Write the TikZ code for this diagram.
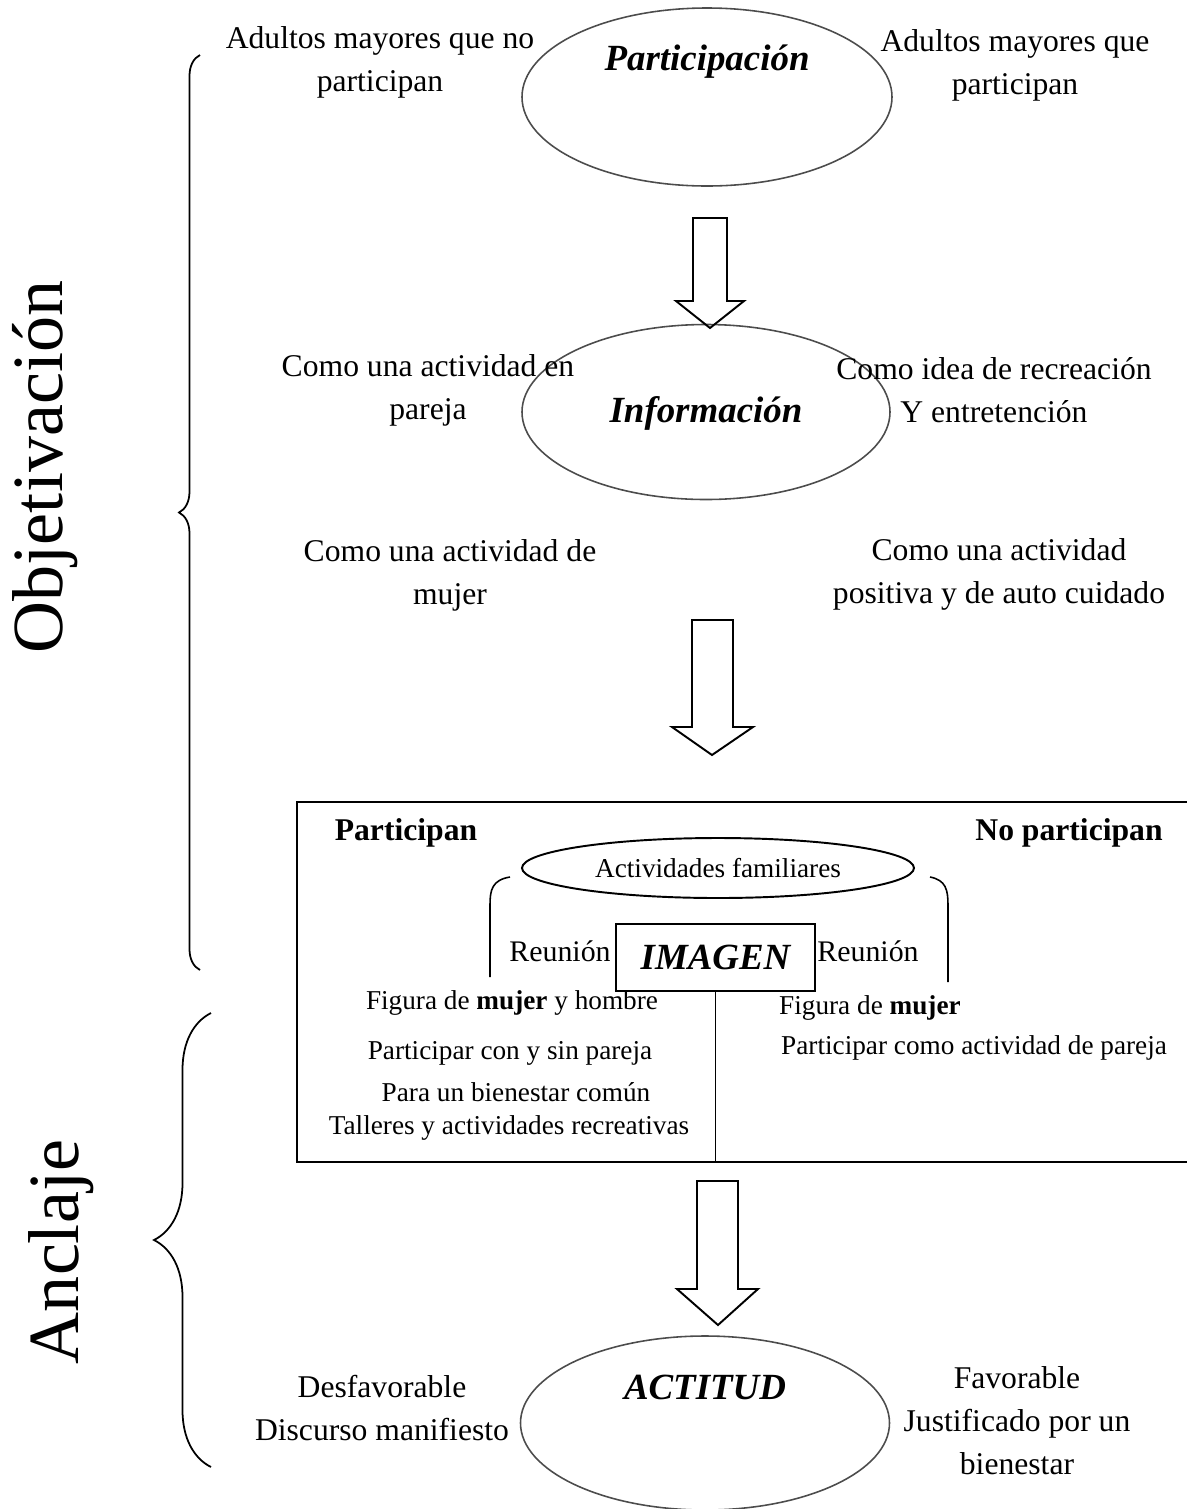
\documentclass[tikz,border=0pt]{standalone}
\usepackage{fontspec}
\setmainfont{Liberation Serif}
\usepackage{tikz}
\usetikzlibrary{shapes.geometric, decorations.pathreplacing}

\begin{document}
\begin{tikzpicture}[
  texto/.style = {font=\fontsize{18}{24.5}\selectfont, align=center},
  titulo/.style = {font=\fontsize{21}{25}\selectfont\bfseries\itshape},
  caja/.style = {font=\fontsize{15.5}{19}\selectfont},
  lado/.style = {font=\fontsize{41}{48}\selectfont, rotate=90, anchor=base},
  elipse/.style = {draw=black!70, line width=0.9pt, ellipse, inner sep=0pt},
  flecha/.style = {draw, line width=1.1pt, line join=miter}
]
\useasboundingbox (0,0) rectangle (23.74,-30.18);

% elipses
\node[elipse, minimum width=7.4cm, minimum height=3.56cm] (part) at (14.14,-1.94) {};
\node[titulo] (parttit) at (14.14,-1.24) {Participación};
\node[elipse, minimum width=7.36cm, minimum height=3.5cm] (info) at (14.12,-8.24) {};
\node[titulo] (infotit) at (14.12,-8.26) {Información};
\node[elipse, minimum width=7.38cm, minimum height=3.48cm] (acti) at (14.10,-28.46) {};
\node[titulo] (actitit) at (14.10,-27.74) {ACTITUD};

% textos
\node[texto] (nopart) at (7.60,-1.25) {Adultos mayores que no\\participan};
\node[texto] (sipart) at (20.30,-1.30) {Adultos mayores que\\participan};
\node[texto] (pareja) at (8.56,-7.80) {Como una actividad en\\pareja};
\node[texto] (recrea) at (19.88,-7.80) {Como idea de recreación\\Y entretención};
\node[texto] (mujer) at (9.00,-11.50) {Como una actividad de\\mujer};
\node[texto] (cuidado) at (19.98,-11.48) {Como una actividad\\positiva y de auto cuidado};
\node[texto] (desfav) at (7.64,-28.16) {Desfavorable\\Discurso manifiesto};
\node[texto] (fav) at (20.34,-28.42) {Favorable\\Justificado por un\\bienestar};

% flechas
\draw[flecha] (13.86,-4.36) -- (14.54,-4.36) -- (14.54,-6.02) -- (14.88,-6.02)
  -- (14.20,-6.56) -- (13.52,-6.02) -- (13.86,-6.02) -- cycle;
\draw[flecha] (13.84,-12.40) -- (14.66,-12.40) -- (14.66,-14.54) -- (15.06,-14.54)
  -- (14.24,-15.10) -- (13.44,-14.54) -- (13.84,-14.54) -- cycle;
\draw[flecha] (13.94,-23.62) -- (14.76,-23.62) -- (14.76,-25.78) -- (15.16,-25.78)
  -- (14.36,-26.50) -- (13.54,-25.78) -- (13.94,-25.78) -- cycle;

% recuadro
\coordinate (cajaa) at (23.74,-16.04);
\coordinate (cajab) at (5.94,-16.04);
\coordinate (cajac) at (5.94,-23.24);
\coordinate (cajad) at (23.74,-23.24);
\draw[line width=1.2pt] (cajaa) -- (cajab) -- (cajac) -- (cajad);
\node[caja, font=\fontsize{18}{21}\selectfont\bfseries] (si) at (8.12,-16.66) {Participan};
\node[caja, font=\fontsize{18}{21}\selectfont\bfseries] (no) at (21.38,-16.66) {No participan};
\node[elipse, draw=black, line width=1.1pt, minimum width=7.84cm, minimum height=1.2cm, caja] (fam) at (14.36,-17.36) {Actividades familiares};
\node[draw, line width=1.1pt, minimum width=3.98cm, minimum height=1.34cm, titulo] (imagen) at (14.31,-19.15) {IMAGEN};
\node[caja, font=\fontsize{17}{20}\selectfont] (reuizq) at (11.20,-19.02) {Reunión};
\node[caja, font=\fontsize{17}{20}\selectfont] (reuder) at (17.36,-19.02) {Reunión};
\draw[line width=0.9pt] (imagen.south) -- (imagen.south |- cajac);
\draw[line width=0.9pt] (10.20,-17.54) .. controls (9.84,-17.60) and (9.80,-17.80) .. (9.80,-18.10) -- (9.80,-19.54);
\draw[line width=0.9pt] (18.60,-17.54) .. controls (18.92,-17.60) and (18.96,-17.80) .. (18.96,-18.10) -- (18.96,-19.64);

\node[caja] (fig1) at (10.24,-20.06) {Figura de \textbf{mujer} y hombre};
\node[caja] (conysin) at (10.20,-21.06) {Participar con y sin pareja};
\node[caja] (comun) at (10.32,-21.84) {Para un bienestar común};
\node[caja] (talleres) at (10.18,-22.56) {Talleres y actividades recreativas};
\node[caja, anchor=west] (fig2) at (15.46,-20.16) {Figura de \textbf{mujer}};
\node[caja, anchor=west] (comopar) at (15.50,-20.96) {Participar como actividad de pareja};

% llaves
\draw[line width=1pt, decorate, decoration={brace, amplitude=0.42cm}] (4.00,-19.40) -- (4.00,-1.10);
\draw[line width=1pt, decorate, decoration={brace, amplitude=1.14cm}] (4.22,-29.34) -- (4.22,-20.26);
\node[lado] (objet) at (1.24,-9.34) {Objetivación};
\node[lado] (ancla) at (1.56,-25.04) {Anclaje};
\end{tikzpicture}
\end{document}
